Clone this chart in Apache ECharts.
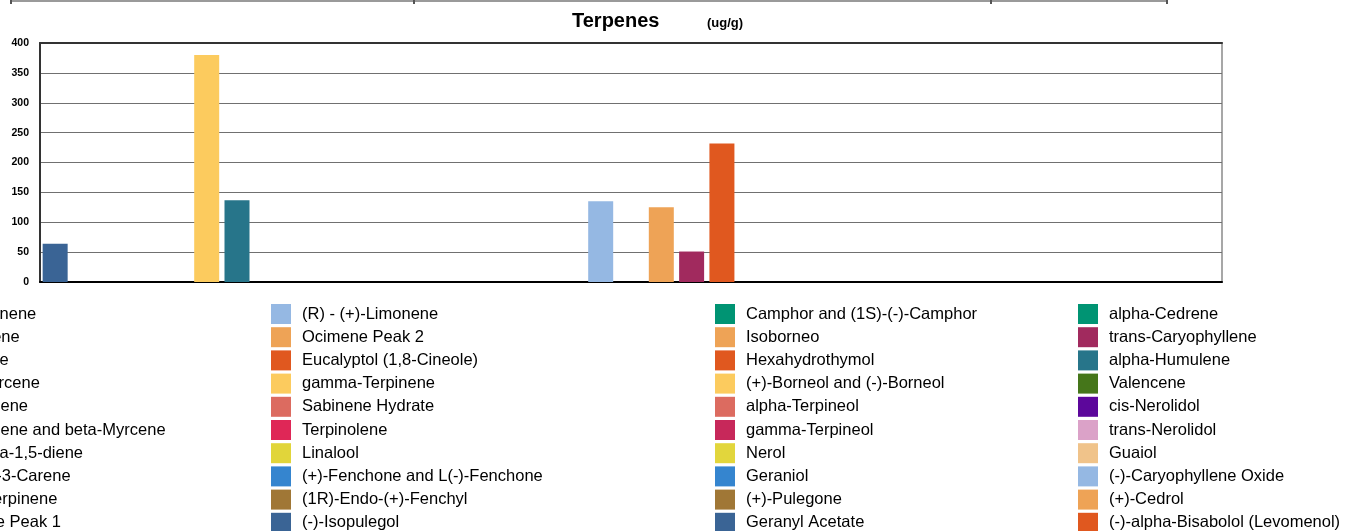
<!DOCTYPE html>
<html>
<head>
<meta charset="utf-8">
<style>
  html, body { margin: 0; padding: 0; background: #ffffff; }
  #chart { width: 1346px; height: 531px; }
</style>
<script src="https://cdn.jsdelivr.net/npm/echarts@6/dist/echarts.min.js"></script>
</head>
<body>
<div id="chart"></div>
<script>
// ---- Data ----
const chartTitle = 'Terpenes';
const chartUnit = '(ug/g)';

// Legend entries (column-major, 4 columns of 10)
const legendNames = [
  'alpha-Pinene', 'Camphene', 'Sabinene', 'beta-Myrcene', 'beta-Pinene',
  'beta-Pinene and beta-Myrcene', 'p-Mentha-1,5-diene', '(1S)-(+)-3-Carene', 'alpha-Terpinene', 'Ocimene Peak 1',
  '(R) - (+)-Limonene', 'Ocimene Peak 2', 'Eucalyptol (1,8-Cineole)', 'gamma-Terpinene', 'Sabinene Hydrate',
  'Terpinolene', 'Linalool', '(+)-Fenchone and L(-)-Fenchone', '(1R)-Endo-(+)-Fenchyl', '(-)-Isopulegol',
  'Camphor and (1S)-(-)-Camphor', 'Isoborneo', 'Hexahydrothymol', '(+)-Borneol and (-)-Borneol', 'alpha-Terpineol',
  'gamma-Terpineol', 'Nerol', 'Geraniol', '(+)-Pulegone', 'Geranyl Acetate',
  'alpha-Cedrene', 'trans-Caryophyllene', 'alpha-Humulene', 'Valencene', 'cis-Nerolidol',
  'trans-Nerolidol', 'Guaiol', '(-)-Caryophyllene Oxide', '(+)-Cedrol', '(-)-alpha-Bisabolol (Levomenol)'
];
const legendColors = [
  '#009473', '#A12A5E', '#27758A', '#45761A', '#5C079B',
  '#DBA2C8', '#F0C38A', '#95B8E3', '#EEA356', '#E0581F',
  '#95B8E3', '#EEA356', '#E0581F', '#FCCB5E', '#DC6B60',
  '#DF2757', '#E1D53A', '#3585CF', '#A07736', '#3A6495',
  '#009473', '#EEA356', '#E0581F', '#FCCB5E', '#DC6B60',
  '#C7285A', '#E2D63C', '#3585CF', '#A07736', '#3A6495',
  '#009473', '#A12A5E', '#27758A', '#45761A', '#5C079B',
  '#DBA2C8', '#F0C38A', '#95B8E3', '#EEA356', '#E0581F'
];

// Bars along the x axis (39 slots), in drawing order
const categories = [
  '(-)-Isopulegol', 'alpha-Pinene', 'Camphene', 'Sabinene', 'beta-Myrcene',
  'gamma-Terpinene', 'alpha-Humulene', 'beta-Pinene', 'beta-Pinene and beta-Myrcene', 'p-Mentha-1,5-diene',
  '(1S)-(+)-3-Carene', 'alpha-Terpinene', 'Ocimene Peak 1', 'Sabinene Hydrate', 'Terpinolene',
  'Linalool', '(+)-Fenchone and L(-)-Fenchone', '(1R)-Endo-(+)-Fenchyl', '(R) - (+)-Limonene', 'Camphor and (1S)-(-)-Camphor',
  'Ocimene Peak 2', 'trans-Caryophyllene', 'Eucalyptol (1,8-Cineole)', 'Isoborneo', 'Hexahydrothymol',
  '(+)-Borneol and (-)-Borneol', 'alpha-Terpineol', 'gamma-Terpineol', 'Nerol', 'Geraniol',
  '(+)-Pulegone', 'Geranyl Acetate', 'alpha-Cedrene', 'Valencene', 'cis-Nerolidol',
  'trans-Nerolidol', 'Guaiol', '(-)-Caryophyllene Oxide', '(-)-alpha-Bisabolol (Levomenol)'
];
const values = [
  64, 0, 0, 0, 0,
  380, 137, 0, 0, 0,
  0, 0, 0, 0, 0,
  0, 0, 0, 135, 0,
  125, 51, 232, 0, 0,
  0, 0, 0, 0, 0,
  0, 0, 0, 0, 0,
  0, 0, 0, 0
];

const yMin = 0, yMax = 400, yStep = 50;

// ---- Build ----
const series = legendNames.map((name, i) => ({
  name: name,
  type: 'bar',
  stack: 'all',
  barWidth: 25,
  itemStyle: { color: legendColors[i] },
  emphasis: { disabled: true },
  data: categories.map((c, j) => (c === name && values[j] > 0) ? values[j] : '-')
}));

const legendLefts = [-92, 271, 715, 1078];
const legends = [0, 1, 2, 3].map(k => ({
  orient: 'vertical',
  left: legendLefts[k],
  top: 304,
  height: 260,
  padding: 0,
  itemWidth: 20,
  itemHeight: 20,
  itemGap: 3.2,
  icon: 'rect',
  selectedMode: false,
  data: legendNames.slice(k * 10, k * 10 + 10),
  textStyle: {
    fontFamily: 'Liberation Sans, Arial, sans-serif',
    fontSize: 16.5,
    color: '#000',
    padding: [0, 0, 0, 6]
  }
}));

const chart = echarts.init(document.getElementById('chart'), null, { renderer: 'canvas' });
chart.setOption({
  animation: false,
  backgroundColor: '#ffffff',
  title: [
    {
      text: chartTitle,
      left: 572, top: 11,
      padding: 0,
      textStyle: { fontFamily: 'Liberation Sans, Arial, sans-serif', fontSize: 20, fontWeight: 'bold', color: '#000' }
    },
    {
      text: chartUnit,
      left: 707, top: 17,
      padding: 0,
      textStyle: { fontFamily: 'Liberation Sans, Arial, sans-serif', fontSize: 13, fontWeight: 'bold', color: '#000' }
    }
  ],
  legend: legends,
  grid: {
    left: 40, right: 124, top: 43, bottom: 249,
    show: true, borderColor: '#8a8a8a', borderWidth: 1.5, backgroundColor: 'transparent'
  },
  xAxis: [
    {
      type: 'category',
      data: categories,
      axisLine: { show: true, lineStyle: { color: '#000', width: 2 } },
      axisTick: { show: false },
      axisLabel: { show: false },
      splitLine: { show: false }
    },
    {
      type: 'category',
      position: 'top',
      data: categories,
      axisLine: { show: true, lineStyle: { color: '#333', width: 2 } },
      axisTick: { show: false },
      axisLabel: { show: false }
    }
  ],
  yAxis: {
    type: 'value',
    min: yMin, max: yMax, interval: yStep,
    axisLine: { show: true, lineStyle: { color: '#333', width: 2 } },
    axisTick: { show: false },
    axisLabel: {
      margin: 11,
      fontFamily: 'Liberation Sans, Arial, sans-serif',
      fontSize: 10.5, fontWeight: 'bold', color: '#000'
    },
    splitLine: { show: true, lineStyle: { color: '#707070', width: 1.2 } }
  },
  graphic: [
    { type: 'line', shape: { x1: 10, y1: 1, x2: 1168, y2: 1 }, style: { stroke: '#9a9a9a', lineWidth: 2 } },
    { type: 'line', shape: { x1: 11, y1: 0, x2: 11, y2: 4 }, style: { stroke: '#555', lineWidth: 2 } },
    { type: 'line', shape: { x1: 414, y1: 0, x2: 414, y2: 4 }, style: { stroke: '#555', lineWidth: 2 } },
    { type: 'line', shape: { x1: 991, y1: 0, x2: 991, y2: 4 }, style: { stroke: '#555', lineWidth: 2 } },
    { type: 'line', shape: { x1: 1167, y1: 0, x2: 1167, y2: 4 }, style: { stroke: '#555', lineWidth: 2 } }
  ],
  series: series
});
</script>
</body>
</html>
